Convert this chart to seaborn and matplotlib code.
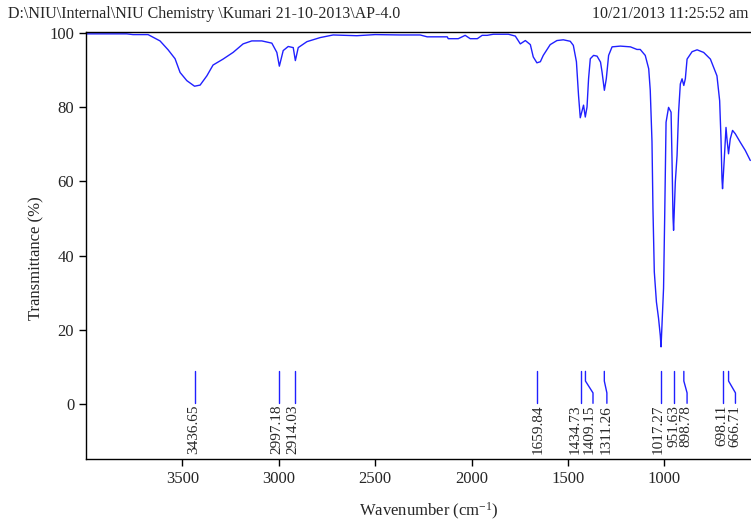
import numpy as np
import matplotlib
matplotlib.use("Agg")
import matplotlib.pyplot as plt
import seaborn as sns

# IR spectrum (wavenumber in cm-1, transmittance in %)
wavenumber = [3996, 3789, 3756, 3678, 3616, 3574, 3538, 3512, 3477, 3437,
              3408, 3373, 3341, 3289, 3237, 3185, 3140, 3088, 3036, 3010,
              2997, 2977, 2951, 2925, 2914, 2899, 2854, 2785, 2718, 2595,
              2500, 2370, 2267, 2230, 2126, 2121, 2069, 2033, 2007, 1970,
              1945, 1919, 1887, 1809, 1773, 1747, 1721, 1695, 1680, 1661,
              1643, 1628, 1592, 1557, 1524, 1488, 1472, 1456, 1445, 1436,
              1419, 1410, 1401, 1393, 1384, 1367, 1349, 1331, 1323, 1311,
              1301, 1289, 1271, 1228, 1176, 1142, 1125, 1099, 1081, 1073,
              1064, 1059, 1052, 1041, 1030, 1021, 1017, 1004, 998, 991,
              978, 965, 960, 955, 952, 943, 934, 926, 917, 908,
              899, 891, 882, 856, 830, 796, 761, 727, 713, 706,
              701, 698, 689, 680, 675, 667, 658, 646, 632, 606,
              580, 554]
transmittance = [99.7, 99.7, 99.5, 99.5, 97.8, 95.4, 93.0, 89.3, 87.1, 85.6,
                 85.9, 88.4, 91.3, 92.9, 94.7, 97.0, 97.8, 97.8, 97.2, 94.7,
                 91.0, 95.2, 96.3, 96.0, 92.5, 96.0, 97.6, 98.7, 99.4, 99.2,
                 99.5, 99.4, 99.4, 98.9, 98.9, 98.4, 98.4, 99.3, 98.4, 98.4,
                 99.3, 99.3, 99.6, 99.6, 99.1, 97.0, 97.9, 96.8, 93.5, 91.9,
                 92.2, 93.9, 96.8, 97.9, 98.1, 97.7, 96.6, 92.2, 83.1, 77.1,
                 80.5, 77.3, 80.0, 87.6, 93.0, 93.9, 93.7, 92.1, 89.4, 84.5,
                 87.6, 93.9, 96.2, 96.4, 96.2, 95.5, 95.5, 93.9, 90.3, 84.5,
                 70.7, 52.7, 35.6, 27.5, 23.1, 18.5, 15.4, 31.2, 50.8, 75.9,
                 79.9, 78.6, 65.6, 50.4, 46.8, 59.8, 66.9, 78.6, 86.2, 87.6,
                 85.8, 87.6, 92.9, 94.9, 95.4, 94.7, 92.9, 88.4, 81.7, 71.4,
                 60.7, 58.0, 66.0, 74.5, 71.4, 67.4, 71.4, 73.7, 72.8, 70.5,
                 68.3, 65.6]

# peak markers: peak position, where the leader ends, where the label sits
peaks = [3436.65, 2997.18, 2914.03, 1659.84, 1434.73, 1409.15,
         1311.26, 1017.27, 951.63, 898.78, 698.11, 666.71]
leader_end = [3436.65, 2997.18, 2914.03, 1659.84, 1434.73, 1370,
              1298, 1017.27, 951.63, 882, 698.11, 631]
label_pos = [3440, 3010, 2928, 1654, 1462, 1390,
             1300, 1030, 951, 890, 700, 632]
peak_labels = ["3436.65", "2997.18", "2914.03", "1659.84", "1434.73", "1409.15",
               "1311.26", "1017.27", "951.63", "898.78", "698.11", "666.71"]

header_left = "D:\\NIU\\Internal\\NIU Chemistry \\Kumari 21-10-2013\\AP-4.0"
header_right = "10/21/2013 11:25:52 am"

sns.set_style("ticks")
plt.rcParams['font.family'] = ['Liberation Serif', 'DejaVu Serif']
plt.rcParams['mathtext.fontset'] = 'custom'
plt.rcParams['mathtext.rm'] = 'Liberation Serif'
plt.rcParams['mathtext.it'] = 'Liberation Serif:italic'
plt.rcParams['xtick.direction'] = 'out'
plt.rcParams['ytick.direction'] = 'out'

fig = plt.figure(figsize=(7.51, 5.21), dpi=100)
ax = fig.add_axes([86 / 751, 62 / 521, 667 / 751, 427 / 521])

sns.lineplot(x=wavenumber, y=transmittance, color='#2020ff', lw=1.0,
             estimator=None, sort=False, ax=ax)

for p, e, lx, lab in zip(peaks, leader_end, label_pos, peak_labels):
    ax.plot([p, p, e, e], [8.8, 6.2, 3.0, 0.2], color='#2020ff', lw=1.0)
    ax.text(lx, -0.2, lab, rotation=90, ha='center', va='top', fontsize=11)

ax.set_xlim(4000, 540)
ax.set_ylim(-14.8, 100.2)
ax.set_xticks([3500, 3000, 2500, 2000, 1500, 1000])
ax.set_yticks([0, 20, 40, 60, 80, 100])
ax.tick_params(labelsize=12, length=5, width=1, color='black')
for s in ax.spines.values():
    s.set_color('black')
    s.set_linewidth(1.0)

ax.set_xlabel("Wavenumber (cm$^{\\mathrm{-1}}$)", fontsize=12)
ax.xaxis.set_label_coords(0.514, -0.098)
ax.set_ylabel("Transmittance (%)", fontsize=12)
ax.yaxis.set_label_coords(-0.062, 0.47)

fig.text(8 / 751, 1 - 14 / 521, header_left, ha='left', va='center', fontsize=11.5)
fig.text(748 / 751, 1 - 14 / 521, header_right, ha='right', va='center', fontsize=11.5)

fig.savefig("out.png", dpi=100)
